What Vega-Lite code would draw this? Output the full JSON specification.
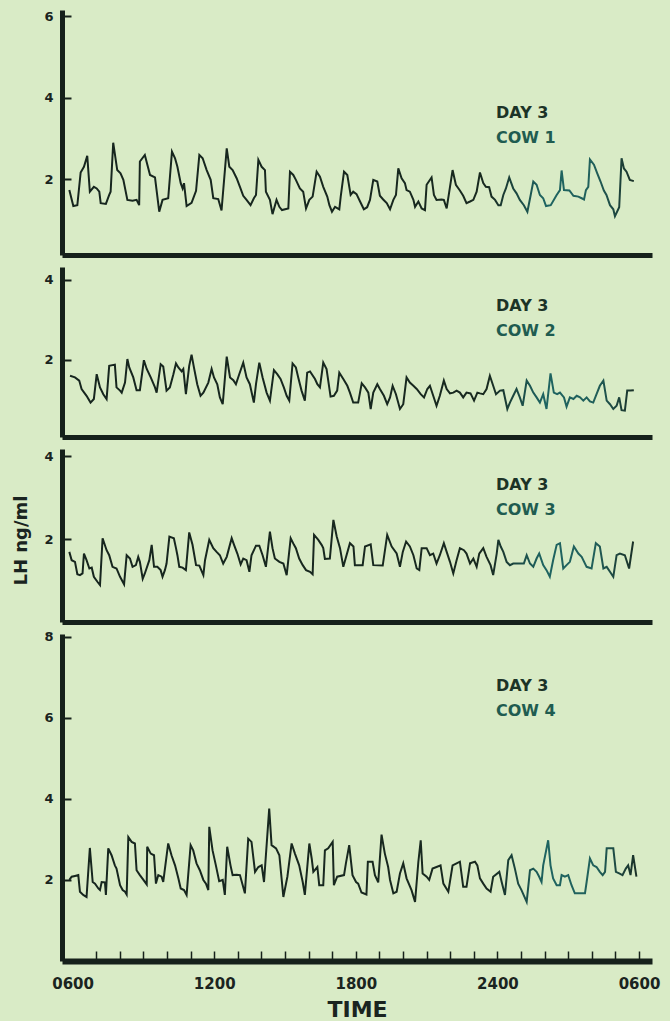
{
  "$schema": "https://vega.github.io/schema/vega-lite/v6.json",
  "background": "#d9ebc6",
  "padding": {"left": 12, "top": 10, "right": 10, "bottom": 5},
  "spacing": 12,
  "bounds": "flush",
  "config": {
    "view": {"stroke": null},
    "font": "DejaVu Sans",
    "axis": {"domainColor": "#16211b", "tickColor": "#16211b", "labelColor": "#1a2420", "titleColor": "#1a2420", "labelFont": "DejaVu Sans", "labelFontWeight": "bold", "titleFont": "DejaVu Sans", "titleFontWeight": "bold", "grid": false},
    "title": {"font": "DejaVu Sans", "fontWeight": "bold", "fontSize": 16, "color": "#1c3327", "subtitleFont": "DejaVu Sans", "subtitleFontWeight": "bold", "subtitleFontSize": 16, "subtitleColor": "#1f5c50", "anchor": "start", "frame": "group", "subtitlePadding": 9}
  },
  "datasets": {
    "cow1": [
      {"t":5.86,"lh":1.74},{"t":6.03,"lh":1.35},{"t":6.20,"lh":1.37},{"t":6.34,"lh":2.17},{"t":6.48,"lh":2.31},{"t":6.62,"lh":2.58},{"t":6.73,"lh":1.70},{"t":6.90,"lh":1.82},{"t":7.02,"lh":1.78},{"t":7.13,"lh":1.70},{"t":7.19,"lh":1.42},{"t":7.41,"lh":1.40},{"t":7.55,"lh":1.62},{"t":7.61,"lh":1.70},{"t":7.72,"lh":2.90},{"t":7.89,"lh":2.23},{"t":8.03,"lh":2.15},{"t":8.15,"lh":1.99},{"t":8.32,"lh":1.50},{"t":8.54,"lh":1.48},{"t":8.71,"lh":1.50},{"t":8.82,"lh":1.37},{"t":8.85,"lh":2.44},{"t":9.06,"lh":2.60},{"t":9.28,"lh":2.11},{"t":9.49,"lh":2.05},{"t":9.67,"lh":1.21},{"t":9.81,"lh":1.50},{"t":10.05,"lh":1.54},{"t":10.21,"lh":2.68},{"t":10.34,"lh":2.52},{"t":10.44,"lh":2.31},{"t":10.58,"lh":1.91},{"t":10.66,"lh":1.78},{"t":10.72,"lh":1.91},{"t":10.83,"lh":1.35},{"t":11.04,"lh":1.43},{"t":11.23,"lh":1.72},{"t":11.37,"lh":2.60},{"t":11.51,"lh":2.52},{"t":11.68,"lh":2.23},{"t":11.85,"lh":1.99},{"t":11.96,"lh":1.54},{"t":12.17,"lh":1.52},{"t":12.31,"lh":1.24},{"t":12.53,"lh":2.76},{"t":12.64,"lh":2.31},{"t":12.78,"lh":2.23},{"t":12.95,"lh":2.03},{"t":13.09,"lh":1.82},{"t":13.23,"lh":1.60},{"t":13.37,"lh":1.50},{"t":13.54,"lh":1.37},{"t":13.68,"lh":1.54},{"t":13.77,"lh":1.62},{"t":13.87,"lh":2.48},{"t":14.01,"lh":2.31},{"t":14.15,"lh":2.23},{"t":14.19,"lh":1.70},{"t":14.36,"lh":1.50},{"t":14.47,"lh":1.15},{"t":14.64,"lh":1.50},{"t":14.76,"lh":1.33},{"t":14.87,"lh":1.25},{"t":15.14,"lh":1.29},{"t":15.21,"lh":2.19},{"t":15.35,"lh":2.11},{"t":15.46,"lh":1.99},{"t":15.63,"lh":1.78},{"t":15.77,"lh":1.70},{"t":15.89,"lh":1.29},{"t":16.03,"lh":1.50},{"t":16.17,"lh":1.58},{"t":16.34,"lh":2.19},{"t":16.48,"lh":2.07},{"t":16.62,"lh":1.82},{"t":16.79,"lh":1.58},{"t":16.88,"lh":1.37},{"t":16.99,"lh":1.21},{"t":17.12,"lh":1.33},{"t":17.30,"lh":1.27},{"t":17.36,"lh":1.58},{"t":17.50,"lh":2.19},{"t":17.64,"lh":2.11},{"t":17.78,"lh":1.62},{"t":17.89,"lh":1.70},{"t":18.03,"lh":1.64},{"t":18.18,"lh":1.46},{"t":18.34,"lh":1.27},{"t":18.48,"lh":1.32},{"t":18.60,"lh":1.50},{"t":18.74,"lh":1.99},{"t":18.91,"lh":1.95},{"t":19.02,"lh":1.60},{"t":19.16,"lh":1.51},{"t":19.31,"lh":1.42},{"t":19.45,"lh":1.27},{"t":19.59,"lh":1.50},{"t":19.70,"lh":1.62},{"t":19.80,"lh":2.27},{"t":19.94,"lh":2.03},{"t":20.08,"lh":1.91},{"t":20.15,"lh":1.74},{"t":20.29,"lh":1.70},{"t":20.44,"lh":1.50},{"t":20.51,"lh":1.33},{"t":20.65,"lh":1.46},{"t":20.79,"lh":1.29},{"t":20.93,"lh":1.25},{"t":21.00,"lh":1.87},{"t":21.21,"lh":2.05},{"t":21.31,"lh":1.62},{"t":21.42,"lh":1.50},{"t":21.63,"lh":1.51},{"t":21.73,"lh":1.50},{"t":21.85,"lh":1.29},{"t":22.10,"lh":2.23},{"t":22.24,"lh":1.87},{"t":22.41,"lh":1.73},{"t":22.55,"lh":1.60},{"t":22.69,"lh":1.42},{"t":22.84,"lh":1.46},{"t":22.98,"lh":1.50},{"t":23.12,"lh":1.70},{"t":23.26,"lh":2.17},{"t":23.40,"lh":1.91},{"t":23.51,"lh":1.82},{"t":23.65,"lh":1.81},{"t":23.75,"lh":1.58},{"t":23.90,"lh":1.50},{"t":24.04,"lh":1.37},{"t":24.14,"lh":1.37},{"t":24.25,"lh":1.62},{"t":24.36,"lh":1.78},{"t":24.50,"lh":2.05},{"t":24.67,"lh":1.78},{"t":24.81,"lh":1.66},{"t":24.95,"lh":1.50},{"t":25.12,"lh":1.37},{"t":25.27,"lh":1.21},{"t":25.41,"lh":1.62},{"t":25.52,"lh":1.95},{"t":25.66,"lh":1.87},{"t":25.80,"lh":1.62},{"t":25.94,"lh":1.54},{"t":26.06,"lh":1.35},{"t":26.26,"lh":1.37},{"t":26.51,"lh":1.62},{"t":26.65,"lh":1.74},{"t":26.72,"lh":2.22},{"t":26.82,"lh":1.74},{"t":27.05,"lh":1.73},{"t":27.22,"lh":1.60},{"t":27.43,"lh":1.58},{"t":27.57,"lh":1.54},{"t":27.67,"lh":1.51},{"t":27.75,"lh":1.74},{"t":27.85,"lh":1.82},{"t":27.92,"lh":2.49},{"t":28.09,"lh":2.36},{"t":28.23,"lh":2.15},{"t":28.37,"lh":1.95},{"t":28.51,"lh":1.73},{"t":28.62,"lh":1.62},{"t":28.77,"lh":1.37},{"t":28.91,"lh":1.27},{"t":28.98,"lh":1.10},{"t":29.16,"lh":1.32},{"t":29.26,"lh":2.52},{"t":29.36,"lh":2.27},{"t":29.47,"lh":2.19},{"t":29.61,"lh":1.99},{"t":29.78,"lh":1.96}
    ],
    "cow2": [
      {"t":5.89,"lh":1.60},{"t":6.10,"lh":1.56},{"t":6.28,"lh":1.48},{"t":6.38,"lh":1.27},{"t":6.59,"lh":1.10},{"t":6.76,"lh":0.93},{"t":6.90,"lh":1.02},{"t":7.02,"lh":1.64},{"t":7.16,"lh":1.31},{"t":7.30,"lh":1.14},{"t":7.44,"lh":1.02},{"t":7.55,"lh":1.85},{"t":7.79,"lh":1.88},{"t":7.86,"lh":1.31},{"t":8.01,"lh":1.23},{"t":8.08,"lh":1.18},{"t":8.22,"lh":1.43},{"t":8.32,"lh":2.02},{"t":8.40,"lh":1.81},{"t":8.57,"lh":1.56},{"t":8.71,"lh":1.24},{"t":8.85,"lh":1.24},{"t":9.02,"lh":1.99},{"t":9.14,"lh":1.77},{"t":9.31,"lh":1.56},{"t":9.49,"lh":1.31},{"t":9.56,"lh":1.18},{"t":9.73,"lh":1.89},{"t":9.84,"lh":1.83},{"t":9.98,"lh":1.23},{"t":10.12,"lh":1.31},{"t":10.27,"lh":1.64},{"t":10.38,"lh":1.91},{"t":10.48,"lh":1.81},{"t":10.62,"lh":1.71},{"t":10.69,"lh":1.77},{"t":10.80,"lh":1.14},{"t":10.94,"lh":1.85},{"t":11.04,"lh":2.13},{"t":11.14,"lh":1.81},{"t":11.28,"lh":1.39},{"t":11.42,"lh":1.10},{"t":11.54,"lh":1.18},{"t":11.75,"lh":1.43},{"t":11.89,"lh":1.77},{"t":11.99,"lh":1.56},{"t":12.13,"lh":1.39},{"t":12.24,"lh":1.06},{"t":12.36,"lh":0.89},{"t":12.53,"lh":2.08},{"t":12.67,"lh":1.56},{"t":12.81,"lh":1.49},{"t":12.92,"lh":1.39},{"t":13.06,"lh":1.64},{"t":13.23,"lh":1.93},{"t":13.37,"lh":1.56},{"t":13.51,"lh":1.39},{"t":13.68,"lh":0.93},{"t":13.77,"lh":1.39},{"t":13.91,"lh":1.93},{"t":14.05,"lh":1.56},{"t":14.22,"lh":1.18},{"t":14.36,"lh":0.98},{"t":14.53,"lh":1.74},{"t":14.67,"lh":1.64},{"t":14.81,"lh":1.52},{"t":14.95,"lh":1.31},{"t":15.07,"lh":1.10},{"t":15.18,"lh":0.98},{"t":15.32,"lh":1.91},{"t":15.46,"lh":1.81},{"t":15.56,"lh":1.56},{"t":15.70,"lh":1.23},{"t":15.84,"lh":0.98},{"t":15.94,"lh":1.68},{"t":16.06,"lh":1.71},{"t":16.27,"lh":1.52},{"t":16.37,"lh":1.39},{"t":16.48,"lh":1.31},{"t":16.62,"lh":1.93},{"t":16.76,"lh":1.77},{"t":16.93,"lh":1.08},{"t":17.07,"lh":1.10},{"t":17.21,"lh":1.23},{"t":17.30,"lh":1.68},{"t":17.47,"lh":1.52},{"t":17.64,"lh":1.35},{"t":17.75,"lh":1.18},{"t":17.89,"lh":0.93},{"t":18.10,"lh":0.93},{"t":18.25,"lh":1.41},{"t":18.39,"lh":1.31},{"t":18.53,"lh":1.18},{"t":18.63,"lh":0.77},{"t":18.74,"lh":1.18},{"t":18.91,"lh":1.39},{"t":19.02,"lh":1.27},{"t":19.19,"lh":1.10},{"t":19.33,"lh":0.89},{"t":19.45,"lh":1.06},{"t":19.56,"lh":1.35},{"t":19.70,"lh":1.14},{"t":19.87,"lh":0.77},{"t":20.01,"lh":0.89},{"t":20.15,"lh":1.56},{"t":20.29,"lh":1.43},{"t":20.44,"lh":1.35},{"t":20.58,"lh":1.27},{"t":20.75,"lh":1.14},{"t":20.89,"lh":1.06},{"t":21.03,"lh":1.27},{"t":21.14,"lh":1.35},{"t":21.28,"lh":1.10},{"t":21.42,"lh":0.85},{"t":21.56,"lh":1.10},{"t":21.73,"lh":1.48},{"t":21.85,"lh":1.27},{"t":21.99,"lh":1.16},{"t":22.13,"lh":1.18},{"t":22.27,"lh":1.23},{"t":22.41,"lh":1.18},{"t":22.55,"lh":1.06},{"t":22.69,"lh":1.18},{"t":22.86,"lh":1.16},{"t":23.01,"lh":0.98},{"t":23.15,"lh":1.18},{"t":23.26,"lh":1.16},{"t":23.40,"lh":1.14},{"t":23.54,"lh":1.27},{"t":23.68,"lh":1.60},{"t":23.80,"lh":1.39},{"t":23.94,"lh":1.14},{"t":24.11,"lh":1.23},{"t":24.25,"lh":1.24},{"t":24.42,"lh":0.77},{"t":24.53,"lh":0.93},{"t":24.67,"lh":1.10},{"t":24.81,"lh":1.27},{"t":24.95,"lh":1.06},{"t":25.07,"lh":0.85},{"t":25.24,"lh":1.48},{"t":25.38,"lh":1.35},{"t":25.52,"lh":1.18},{"t":25.66,"lh":1.06},{"t":25.80,"lh":0.93},{"t":25.94,"lh":1.14},{"t":26.08,"lh":0.77},{"t":26.25,"lh":1.66},{"t":26.39,"lh":1.18},{"t":26.53,"lh":1.14},{"t":26.65,"lh":1.18},{"t":26.82,"lh":1.06},{"t":26.93,"lh":0.83},{"t":27.07,"lh":1.06},{"t":27.22,"lh":1.02},{"t":27.36,"lh":1.10},{"t":27.50,"lh":1.06},{"t":27.64,"lh":0.98},{"t":27.78,"lh":1.06},{"t":27.92,"lh":0.96},{"t":28.06,"lh":0.93},{"t":28.20,"lh":1.14},{"t":28.34,"lh":1.35},{"t":28.49,"lh":1.48},{"t":28.63,"lh":0.98},{"t":28.77,"lh":0.89},{"t":28.91,"lh":0.77},{"t":29.05,"lh":0.85},{"t":29.16,"lh":1.06},{"t":29.26,"lh":0.74},{"t":29.40,"lh":0.73},{"t":29.50,"lh":1.23},{"t":29.64,"lh":1.23},{"t":29.78,"lh":1.24}
    ],
    "cow3": [
      {"t":5.86,"lh":1.69},{"t":5.96,"lh":1.49},{"t":6.10,"lh":1.45},{"t":6.20,"lh":1.15},{"t":6.31,"lh":1.13},{"t":6.42,"lh":1.17},{"t":6.48,"lh":1.65},{"t":6.59,"lh":1.49},{"t":6.71,"lh":1.29},{"t":6.81,"lh":1.31},{"t":6.90,"lh":1.09},{"t":7.05,"lh":0.97},{"t":7.16,"lh":0.89},{"t":7.27,"lh":2.02},{"t":7.44,"lh":1.73},{"t":7.55,"lh":1.61},{"t":7.69,"lh":1.33},{"t":7.86,"lh":1.29},{"t":8.01,"lh":1.09},{"t":8.18,"lh":0.91},{"t":8.29,"lh":1.61},{"t":8.43,"lh":1.53},{"t":8.54,"lh":1.33},{"t":8.68,"lh":1.37},{"t":8.78,"lh":1.57},{"t":8.85,"lh":1.45},{"t":8.97,"lh":1.04},{"t":9.06,"lh":1.17},{"t":9.25,"lh":1.49},{"t":9.35,"lh":1.86},{"t":9.45,"lh":1.33},{"t":9.59,"lh":1.33},{"t":9.73,"lh":1.25},{"t":9.81,"lh":1.09},{"t":9.91,"lh":1.25},{"t":9.98,"lh":1.41},{"t":10.10,"lh":2.06},{"t":10.29,"lh":2.02},{"t":10.38,"lh":1.78},{"t":10.44,"lh":1.61},{"t":10.52,"lh":1.33},{"t":10.66,"lh":1.31},{"t":10.80,"lh":1.25},{"t":10.94,"lh":2.16},{"t":11.08,"lh":1.86},{"t":11.23,"lh":1.37},{"t":11.37,"lh":1.36},{"t":11.54,"lh":1.13},{"t":11.61,"lh":1.49},{"t":11.79,"lh":1.98},{"t":11.96,"lh":1.78},{"t":12.10,"lh":1.69},{"t":12.24,"lh":1.61},{"t":12.38,"lh":1.41},{"t":12.53,"lh":1.57},{"t":12.74,"lh":2.02},{"t":12.84,"lh":1.86},{"t":12.98,"lh":1.65},{"t":13.12,"lh":1.39},{"t":13.23,"lh":1.53},{"t":13.37,"lh":1.49},{"t":13.49,"lh":1.21},{"t":13.58,"lh":1.61},{"t":13.77,"lh":1.84},{"t":13.91,"lh":1.84},{"t":14.05,"lh":1.61},{"t":14.19,"lh":1.33},{"t":14.36,"lh":2.18},{"t":14.47,"lh":1.78},{"t":14.57,"lh":1.53},{"t":14.76,"lh":1.45},{"t":14.93,"lh":1.41},{"t":15.07,"lh":1.13},{"t":15.24,"lh":2.02},{"t":15.38,"lh":1.86},{"t":15.46,"lh":1.78},{"t":15.60,"lh":1.53},{"t":15.75,"lh":1.37},{"t":15.89,"lh":1.25},{"t":16.06,"lh":1.21},{"t":16.17,"lh":1.15},{"t":16.23,"lh":2.10},{"t":16.41,"lh":1.98},{"t":16.55,"lh":1.86},{"t":16.62,"lh":1.78},{"t":16.69,"lh":1.52},{"t":16.90,"lh":1.53},{"t":17.05,"lh":2.46},{"t":17.19,"lh":2.06},{"t":17.33,"lh":1.78},{"t":17.47,"lh":1.33},{"t":17.75,"lh":1.90},{"t":17.90,"lh":1.82},{"t":17.96,"lh":1.37},{"t":18.29,"lh":1.37},{"t":18.39,"lh":1.82},{"t":18.63,"lh":1.87},{"t":18.74,"lh":1.37},{"t":19.14,"lh":1.36},{"t":19.33,"lh":2.10},{"t":19.52,"lh":1.82},{"t":19.73,"lh":1.65},{"t":19.87,"lh":1.33},{"t":19.99,"lh":1.69},{"t":20.13,"lh":1.94},{"t":20.29,"lh":1.82},{"t":20.44,"lh":1.61},{"t":20.58,"lh":1.29},{"t":20.69,"lh":1.25},{"t":20.79,"lh":1.78},{"t":21.00,"lh":1.78},{"t":21.14,"lh":1.61},{"t":21.28,"lh":1.65},{"t":21.42,"lh":1.41},{"t":21.56,"lh":1.61},{"t":21.73,"lh":1.90},{"t":21.85,"lh":1.69},{"t":21.99,"lh":1.45},{"t":22.13,"lh":1.17},{"t":22.27,"lh":1.49},{"t":22.41,"lh":1.78},{"t":22.58,"lh":1.73},{"t":22.69,"lh":1.65},{"t":22.84,"lh":1.41},{"t":22.98,"lh":1.53},{"t":23.12,"lh":1.33},{"t":23.23,"lh":1.65},{"t":23.40,"lh":1.78},{"t":23.54,"lh":1.57},{"t":23.71,"lh":1.37},{"t":23.82,"lh":1.13},{"t":23.97,"lh":1.65},{"t":24.04,"lh":1.98},{"t":24.14,"lh":1.82},{"t":24.25,"lh":1.69},{"t":24.39,"lh":1.45},{"t":24.53,"lh":1.37},{"t":24.67,"lh":1.41},{"t":24.84,"lh":1.41},{"t":25.12,"lh":1.41},{"t":25.24,"lh":1.61},{"t":25.38,"lh":1.41},{"t":25.52,"lh":1.33},{"t":25.66,"lh":1.53},{"t":25.77,"lh":1.65},{"t":25.94,"lh":1.37},{"t":26.08,"lh":1.25},{"t":26.22,"lh":1.09},{"t":26.36,"lh":1.49},{"t":26.51,"lh":1.86},{"t":26.65,"lh":1.90},{"t":26.79,"lh":1.29},{"t":26.93,"lh":1.37},{"t":27.07,"lh":1.45},{"t":27.24,"lh":1.82},{"t":27.43,"lh":1.65},{"t":27.57,"lh":1.57},{"t":27.78,"lh":1.33},{"t":27.99,"lh":1.29},{"t":28.17,"lh":1.90},{"t":28.34,"lh":1.82},{"t":28.49,"lh":1.29},{"t":28.63,"lh":1.33},{"t":28.77,"lh":1.21},{"t":28.91,"lh":1.09},{"t":29.05,"lh":1.61},{"t":29.19,"lh":1.65},{"t":29.40,"lh":1.61},{"t":29.58,"lh":1.29},{"t":29.75,"lh":1.94}
    ],
    "cow4": [
      {"t":5.86,"lh":2.00},{"t":5.96,"lh":2.08},{"t":6.10,"lh":2.10},{"t":6.24,"lh":2.12},{"t":6.31,"lh":1.71},{"t":6.45,"lh":1.63},{"t":6.59,"lh":1.58},{"t":6.73,"lh":2.79},{"t":6.85,"lh":1.95},{"t":6.95,"lh":1.91},{"t":7.09,"lh":1.79},{"t":7.16,"lh":1.75},{"t":7.23,"lh":1.95},{"t":7.37,"lh":1.94},{"t":7.41,"lh":1.63},{"t":7.51,"lh":2.78},{"t":7.65,"lh":2.61},{"t":7.79,"lh":2.36},{"t":7.86,"lh":2.28},{"t":8.01,"lh":1.87},{"t":8.12,"lh":1.75},{"t":8.22,"lh":1.71},{"t":8.29,"lh":1.64},{"t":8.36,"lh":3.06},{"t":8.50,"lh":2.94},{"t":8.64,"lh":2.90},{"t":8.71,"lh":2.24},{"t":8.85,"lh":2.12},{"t":9.00,"lh":2.00},{"t":9.14,"lh":1.89},{"t":9.16,"lh":2.82},{"t":9.31,"lh":2.65},{"t":9.45,"lh":2.61},{"t":9.53,"lh":1.91},{"t":9.63,"lh":2.12},{"t":9.77,"lh":2.08},{"t":9.84,"lh":1.95},{"t":10.05,"lh":2.90},{"t":10.19,"lh":2.61},{"t":10.34,"lh":2.36},{"t":10.48,"lh":2.04},{"t":10.58,"lh":1.79},{"t":10.72,"lh":1.75},{"t":10.83,"lh":1.63},{"t":11.00,"lh":2.86},{"t":11.11,"lh":2.73},{"t":11.25,"lh":2.41},{"t":11.39,"lh":2.24},{"t":11.54,"lh":2.00},{"t":11.65,"lh":1.91},{"t":11.75,"lh":1.75},{"t":11.79,"lh":3.31},{"t":11.93,"lh":2.73},{"t":12.07,"lh":2.36},{"t":12.21,"lh":1.97},{"t":12.36,"lh":2.00},{"t":12.45,"lh":1.63},{"t":12.55,"lh":2.82},{"t":12.69,"lh":2.36},{"t":12.78,"lh":2.12},{"t":12.95,"lh":2.13},{"t":13.09,"lh":2.12},{"t":13.30,"lh":1.67},{"t":13.44,"lh":3.02},{"t":13.58,"lh":2.94},{"t":13.73,"lh":2.20},{"t":13.87,"lh":2.32},{"t":14.01,"lh":2.36},{"t":14.11,"lh":1.95},{"t":14.33,"lh":3.76},{"t":14.43,"lh":2.86},{"t":14.62,"lh":2.78},{"t":14.76,"lh":2.61},{"t":14.93,"lh":1.58},{"t":15.10,"lh":2.08},{"t":15.28,"lh":2.90},{"t":15.42,"lh":2.65},{"t":15.60,"lh":2.36},{"t":15.75,"lh":1.95},{"t":15.84,"lh":1.63},{"t":16.03,"lh":2.90},{"t":16.13,"lh":2.53},{"t":16.20,"lh":2.20},{"t":16.37,"lh":2.32},{"t":16.45,"lh":1.87},{"t":16.62,"lh":1.87},{"t":16.69,"lh":2.73},{"t":16.83,"lh":2.78},{"t":17.02,"lh":2.94},{"t":17.07,"lh":1.87},{"t":17.21,"lh":2.08},{"t":17.50,"lh":2.12},{"t":17.58,"lh":2.41},{"t":17.72,"lh":2.86},{"t":17.86,"lh":2.12},{"t":18.01,"lh":1.95},{"t":18.10,"lh":1.91},{"t":18.24,"lh":1.69},{"t":18.45,"lh":1.64},{"t":18.51,"lh":2.45},{"t":18.71,"lh":2.45},{"t":18.81,"lh":2.12},{"t":18.95,"lh":1.94},{"t":19.09,"lh":3.12},{"t":19.23,"lh":2.65},{"t":19.37,"lh":2.32},{"t":19.45,"lh":2.00},{"t":19.59,"lh":1.67},{"t":19.73,"lh":1.71},{"t":19.87,"lh":2.16},{"t":20.01,"lh":2.41},{"t":20.15,"lh":2.04},{"t":20.36,"lh":1.75},{"t":20.51,"lh":1.46},{"t":20.65,"lh":2.45},{"t":20.75,"lh":2.98},{"t":20.83,"lh":2.16},{"t":21.00,"lh":2.08},{"t":21.11,"lh":2.00},{"t":21.25,"lh":2.28},{"t":21.42,"lh":2.32},{"t":21.59,"lh":2.36},{"t":21.71,"lh":1.91},{"t":21.92,"lh":1.71},{"t":22.10,"lh":2.36},{"t":22.27,"lh":2.41},{"t":22.41,"lh":2.45},{"t":22.55,"lh":1.83},{"t":22.69,"lh":1.83},{"t":22.84,"lh":2.41},{"t":23.05,"lh":2.45},{"t":23.15,"lh":2.36},{"t":23.26,"lh":2.04},{"t":23.40,"lh":1.91},{"t":23.54,"lh":1.79},{"t":23.71,"lh":1.71},{"t":23.82,"lh":2.08},{"t":24.08,"lh":2.20},{"t":24.18,"lh":1.95},{"t":24.32,"lh":1.63},{"t":24.46,"lh":2.49},{"t":24.60,"lh":2.61},{"t":24.74,"lh":2.28},{"t":24.88,"lh":1.91},{"t":25.02,"lh":1.75},{"t":25.24,"lh":1.46},{"t":25.38,"lh":2.24},{"t":25.52,"lh":2.28},{"t":25.66,"lh":2.20},{"t":25.77,"lh":2.08},{"t":25.87,"lh":1.95},{"t":25.94,"lh":2.36},{"t":26.15,"lh":2.98},{"t":26.25,"lh":2.36},{"t":26.36,"lh":2.04},{"t":26.51,"lh":1.87},{"t":26.65,"lh":1.87},{"t":26.72,"lh":2.12},{"t":26.86,"lh":2.08},{"t":27.00,"lh":2.12},{"t":27.14,"lh":1.87},{"t":27.28,"lh":1.67},{"t":27.47,"lh":1.67},{"t":27.71,"lh":1.67},{"t":27.78,"lh":1.95},{"t":27.92,"lh":2.53},{"t":28.06,"lh":2.36},{"t":28.20,"lh":2.32},{"t":28.34,"lh":2.20},{"t":28.46,"lh":2.12},{"t":28.56,"lh":2.20},{"t":28.63,"lh":2.78},{"t":28.91,"lh":2.78},{"t":29.02,"lh":2.20},{"t":29.16,"lh":2.16},{"t":29.30,"lh":2.12},{"t":29.44,"lh":2.28},{"t":29.54,"lh":2.36},{"t":29.64,"lh":2.12},{"t":29.75,"lh":2.61},{"t":29.89,"lh":2.08}
    ]
  },
  "vconcat": [
    {
      "width": 590, "height": 245,
      "title": {"text": "DAY 3", "subtitle": "COW 1", "dx": 434, "dy": 140},
      "data": {"name": "cow1"},
      "mark": {"type": "line", "strokeWidth": 2, "color": {"gradient": "linear", "x1": 0, "y1": 0, "x2": 1, "y2": 0, "stops": [{"offset": 0, "color": "#16251e"}, {"offset": 0.74, "color": "#18291f"}, {"offset": 0.84, "color": "#1e6461"}, {"offset": 0.93, "color": "#21605b"}, {"offset": 1, "color": "#1a3128"}]}},
      "encoding": {
        "x": {"field": "t", "type": "quantitative", "scale": {"domain": [5.55, 30.55], "nice": false, "zero": false}, "axis": {"ticks": false, "labels": false, "title": null, "domainWidth": 5}},
        "y": {"field": "lh", "type": "quantitative", "scale": {"domain": [0.15, 6.15], "nice": false, "zero": false}, "axis": {"values": [2, 4, 6], "tickSize": -9, "tickWidth": 2, "domainWidth": 5, "labelFontSize": 13, "labelPadding": 18, "title": null}}
      }
    },
    {
      "width": 590, "height": 170,
      "title": {"text": "DAY 3", "subtitle": "COW 2", "dx": 434, "dy": 76},
      "data": {"name": "cow2"},
      "mark": {"type": "line", "strokeWidth": 2, "color": {"gradient": "linear", "x1": 0, "y1": 0, "x2": 1, "y2": 0, "stops": [{"offset": 0, "color": "#16251e"}, {"offset": 0.74, "color": "#18291f"}, {"offset": 0.84, "color": "#1e6461"}, {"offset": 0.93, "color": "#21605b"}, {"offset": 1, "color": "#1a3128"}]}},
      "encoding": {
        "x": {"field": "t", "type": "quantitative", "scale": {"domain": [5.55, 30.55], "nice": false, "zero": false}, "axis": {"ticks": false, "labels": false, "title": null, "domainWidth": 5}},
        "y": {"field": "lh", "type": "quantitative", "scale": {"domain": [0.07, 4.32], "nice": false, "zero": false}, "axis": {"values": [2, 4], "tickSize": -9, "tickWidth": 2, "domainWidth": 5, "labelFontSize": 13, "labelPadding": 18, "title": null}}
      }
    },
    {
      "width": 590, "height": 173,
      "title": {"text": "DAY 3", "subtitle": "COW 3", "dx": 434, "dy": 73},
      "data": {"name": "cow3"},
      "mark": {"type": "line", "strokeWidth": 2, "color": {"gradient": "linear", "x1": 0, "y1": 0, "x2": 1, "y2": 0, "stops": [{"offset": 0, "color": "#16251e"}, {"offset": 0.74, "color": "#18291f"}, {"offset": 0.84, "color": "#1e6461"}, {"offset": 0.93, "color": "#21605b"}, {"offset": 1, "color": "#1a3128"}]}},
      "encoding": {
        "x": {"field": "t", "type": "quantitative", "scale": {"domain": [5.55, 30.55], "nice": false, "zero": false}, "axis": {"ticks": false, "labels": false, "title": null, "domainWidth": 5}},
        "y": {"field": "lh", "type": "quantitative", "scale": {"domain": [0, 4.17], "nice": false, "zero": false}, "axis": {"values": [2, 4], "tickSize": -9, "tickWidth": 2, "domainWidth": 5, "labelFontSize": 13, "labelPadding": 18, "title": "LH ng/ml", "titleFontSize": 18, "titleX": -40.5, "titleY": 91, "titleAngle": 270, "titleAlign": "center", "titleBaseline": "middle"}}
      }
    },
    {
      "width": 590, "height": 327,
      "title": {"text": "DAY 3", "subtitle": "COW 4", "dx": 434, "dy": 92},
      "data": {"name": "cow4"},
      "mark": {"type": "line", "strokeWidth": 2, "color": {"gradient": "linear", "x1": 0, "y1": 0, "x2": 1, "y2": 0, "stops": [{"offset": 0, "color": "#16251e"}, {"offset": 0.74, "color": "#18291f"}, {"offset": 0.84, "color": "#1e6461"}, {"offset": 0.93, "color": "#21605b"}, {"offset": 1, "color": "#1a3128"}]}},
      "encoding": {
        "x": {"field": "t", "type": "quantitative", "scale": {"domain": [5.55, 30.55], "nice": false, "zero": false}, "axis": {"values": [6,7,8,9,10,11,12,13,14,15,16,17,18,19,20,21,22,23,24,25,26,27,28,29,30], "labelExpr": "datum.value == 6 || datum.value == 30 ? '0600' : (datum.value % 6 == 0 ? (datum.value * 100) + '' : '')", "tickSize": -10, "tickWidth": 1.5, "tickOpacity": {"condition": {"test": "datum.value == 6", "value": 0}, "value": 1}, "labelFlush": false, "labelFontSize": 15, "labelPadding": 25, "domainWidth": 6, "title": "TIME", "titleFontSize": 22, "titlePadding": 8}},
        "y": {"field": "lh", "type": "quantitative", "scale": {"domain": [0, 8.07], "nice": false, "zero": false}, "axis": {"values": [2, 4, 6, 8], "tickSize": -9, "tickWidth": 2, "domainWidth": 5, "labelFontSize": 13, "labelPadding": 18, "title": null}}
      }
    }
  ]
}
